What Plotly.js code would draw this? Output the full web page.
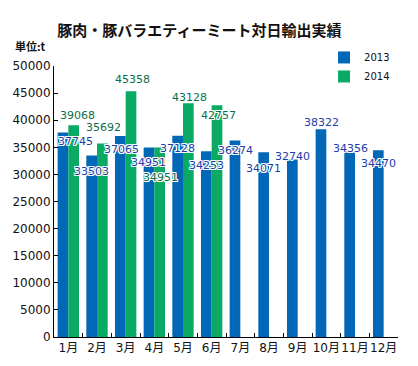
<!DOCTYPE html>
<html>
<head>
<meta charset="utf-8">
<script src="https://cdn.plot.ly/plotly-3.0.1.min.js"></script>
<style>html,body{margin:0;padding:0;background:#fff;}#chart{width:418px;height:366px;}</style>
</head>
<body>
<div id="chart"></div>
<script>
// ---- data ----
const months = ['1月','2月','3月','4月','5月','6月','7月','8月','9月','10月','11月','12月'];
const series2013 = [37745, 33503, 37065, 34951, 37128, 34253, 36274, 34071, 32740, 38322, 34356, 34470];
const months2014 = ['1月','2月','3月','4月','5月','6月'];
const series2014 = [39068, 35692, 45358, 34951, 43128, 42757];
const yTickVals = [0, 5000, 10000, 15000, 20000, 25000, 30000, 35000, 40000, 45000, 50000];
const titleText = '豚肉・豚バラエティーミート対日輸出実績';
const unitText = '単位:t';

// ---- styles ----
const BLUE = '#0068b7', GREEN = '#0aaa64';
const LBL_BLUE = '#1c3ca8', LBL_GREEN = '#0b6e4c';
const NUMFONT = 'DejaVu Sans, Noto Sans CJK JP, sans-serif';
const CJKFONT = 'Noto Sans CJK JP, sans-serif';
const halo = '1px 0 0 #fff, -1px 0 0 #fff, 0 1px 0 #fff, 0 -1px 0 #fff, 1px 1px 0 #fff, -1px -1px 0 #fff, 1px -1px 0 #fff, -1px 1px 0 #fff';
// label pixel offsets relative to (category centre, bar top): [dx, dy(up)]
const off2013 = [[7.6,-9.3],[-5.1,-16],[-4.4,-12.9],[-5.8,-14.8],[-5.5,-12.7],[-5.2,-14.6],
                 [-4.9,-10.3],[-5.9,-16.6],[-5.3,3.2],[-5,6.8],[-5,2.4],[-5.4,-13.2]];
const off2014 = [[9.3,9.5],[6.6,16.1],[6.9,12],[6.2,-30.4],[6.5,5.7],[6.8,-10.6]];

const traces = [
  {type:'bar', name:'2013', x:months, y:series2013, marker:{color:BLUE}, hoverinfo:'skip'},
  {type:'bar', name:'2014', x:months2014, y:series2014, marker:{color:GREEN}, hoverinfo:'skip'}
];

const annotations = [];
series2013.forEach((v,i)=>{
  annotations.push({x:months[i], y:v, xref:'x', yref:'y', text:String(v), showarrow:false,
    xanchor:'center', yanchor:'middle', xshift:off2013[i][0], yshift:off2013[i][1],
    font:{family:NUMFONT, size:11, color:LBL_BLUE, shadow:halo}});
});
series2014.forEach((v,i)=>{
  annotations.push({x:months2014[i], y:v, xref:'x', yref:'y', text:String(v), showarrow:false,
    xanchor:'center', yanchor:'middle', xshift:off2014[i][0], yshift:off2014[i][1],
    font:{family:NUMFONT, size:11, color:LBL_GREEN, shadow:halo}});
});
annotations.push({xref:'paper', yref:'paper', x:-0.017, y:1.072, xanchor:'right', yanchor:'middle',
  text:unitText, showarrow:false, font:{family:CJKFONT, size:11, color:'#111', weight:600}});

const layout = {
  width:418, height:366,
  margin:{l:53.5, r:20.3, t:65.5, b:29, pad:0},
  paper_bgcolor:'#fff', plot_bgcolor:'#fff',
  barmode:'group', bargap:0.254, bargroupgap:0,
  title:{text:titleText, x:0.477, xref:'container', xanchor:'center', y:1-31/366, yref:'container', yanchor:'middle',
    font:{family:CJKFONT, size:15, color:'#111', weight:'bold'}},
  xaxis:{type:'category', tickson:'boundaries', ticks:'inside', ticklen:4, tickcolor:'#000', tickangle:0,
    showline:true, linecolor:'#000', linewidth:1, showgrid:false, zeroline:false,
    tickfont:{family:NUMFONT, size:12, color:'#111'}},
  yaxis:{range:[0,50000], tickvals:yTickVals, ticktext:yTickVals.map(String), ticks:'inside', ticklen:4,
    tickcolor:'#000', showline:true, linecolor:'#000', linewidth:1, showgrid:false, zeroline:false,
    tickfont:{family:NUMFONT, size:12, color:'#111'}},
  showlegend:true,
  legend:{x:0.785, y:1.085, xanchor:'left', yanchor:'top', bgcolor:'rgba(0,0,0,0)',
    font:{family:NUMFONT, size:10, color:'#111'}, itemwidth:30, tracegroupgap:0},
  annotations:annotations
};

Plotly.newPlot('chart', traces, layout, {staticPlot:true, displayModeBar:false});
</script>
</body>
</html>
